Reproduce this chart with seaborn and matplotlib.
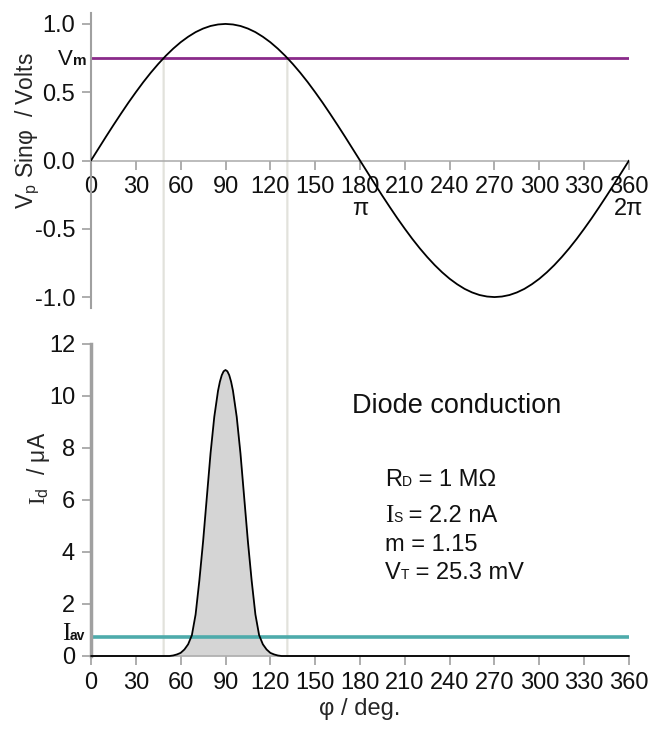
import matplotlib
matplotlib.use('Agg')
import matplotlib.pyplot as plt
from matplotlib.patches import ConnectionPatch
import seaborn as sns

# --- data ---
# phase angle (deg) and normalised source voltage Vp*sin(phi)
phi = list(range(0, 361, 5))
v_sin = [0.000, 0.087, 0.174, 0.259, 0.342, 0.423, 0.500, 0.574, 0.643, 0.707,
         0.766, 0.819, 0.866, 0.906, 0.940, 0.966, 0.985, 0.996, 1.000, 0.996,
         0.985, 0.966, 0.940, 0.906, 0.866, 0.819, 0.766, 0.707, 0.643, 0.574,
         0.500, 0.423, 0.342, 0.259, 0.174, 0.087, 0.000, -0.087, -0.174, -0.259,
         -0.342, -0.423, -0.500, -0.574, -0.643, -0.707, -0.766, -0.819, -0.866, -0.906,
         -0.940, -0.966, -0.985, -0.996, -1.000, -0.996, -0.985, -0.966, -0.940, -0.906,
         -0.866, -0.819, -0.766, -0.707, -0.643, -0.574, -0.500, -0.423, -0.342, -0.259,
         -0.174, -0.087, 0.000]

# diode current pulse (uA)
phi_id = [0, 50, 52.5, 55, 57.5, 60, 62.5, 65, 67.5, 70, 72.5, 75, 77.5, 80, 82.5, 85, 86.25,
          87.5, 88.75, 90, 91.25, 92.5, 93.75, 95, 97.5, 100, 102.5, 105, 107.5, 110, 112.5,
          115, 117.5, 120, 122.5, 125, 127.5, 130, 360]
id_ua = [0.0, 0.0, 0.0, 0.02, 0.06, 0.12, 0.25, 0.45, 0.8, 1.6, 2.9, 4.4, 6.1, 7.8, 9.2, 10.2, 10.55,
         10.8, 10.95, 11.0, 10.95, 10.8, 10.55, 10.2, 9.2, 7.8, 6.1, 4.4, 2.9, 1.6, 0.8,
         0.45, 0.25, 0.12, 0.06, 0.02, 0.0, 0.0, 0.0]

v_m = 0.75          # conduction threshold level
i_av = 0.75         # average current (uA)
cross_deg = [48.6, 131.4]   # where Vp*sin(phi) = Vm

x_ticks = list(range(0, 361, 30))
top_xlabels = ['0', '30', '60', '90', '120', '150', '180\nπ', '210', '240', '270', '300', '330', '360\n2π']
bot_xlabels = [str(t) for t in x_ticks]
top_yticks = [-1.0, -0.5, 0.0, 0.5, 1.0]
top_ylabels = ['-1.0', '-0.5', '0.0', '0.5', '1.0']
bot_yticks = [0, 2, 4, 6, 8, 10, 12]

PURPLE = '#8a2a8a'
TEAL = '#4eabab'
AXGRAY = '#a0a0a0'
SANS = 'Liberation Sans'
SERIF = 'Liberation Serif'

sns.set_theme(style='ticks')
plt.rcParams['font.family'] = ['Liberation Sans', 'DejaVu Sans']
plt.rcParams['mathtext.fontset'] = 'custom'
plt.rcParams['mathtext.rm'] = 'Liberation Serif'
plt.rcParams['mathtext.sf'] = 'Liberation Sans'
plt.rcParams['text.color'] = '#111111'


def chain_label(ax, x, y, parts):
    """Write text pieces of different size side by side on one baseline."""
    prev = None
    for text, size, fam in parts:
        if prev is None:
            prev = ax.annotate(text, (x, y), xycoords='data', fontsize=size,
                               family=fam, ha='left', va='baseline')
        else:
            prev = ax.annotate(text, (1, y), xycoords=(prev, 'data'), fontsize=size,
                               family=fam, ha='left', va='baseline')
    return prev


def style_axes(ax, left_width):
    ax.patch.set_visible(False)
    ax.spines['top'].set_visible(False)
    ax.spines['right'].set_visible(False)
    ax.spines['left'].set_color(AXGRAY)
    ax.spines['left'].set_linewidth(left_width)
    ax.spines['bottom'].set_color('#aaaaaa')
    ax.spines['bottom'].set_linewidth(1.1)
    ax.tick_params(axis='both', direction='out', length=6.5, width=1.2, color=AXGRAY,
                   labelsize=17, labelcolor='#111111')
    ax.tick_params(axis='x', pad=5)
    ax.tick_params(axis='y', pad=5)
    ax.set_xlim(0, 360)
    ax.set_xticks(x_ticks)


fig = plt.figure(figsize=(6.56, 7.29), dpi=100)
ax1 = fig.add_axes([91 / 656, 1 - 308 / 729, 538 / 656, 295 / 729])
ax2 = fig.add_axes([91 / 656, 1 - 656 / 729, 538 / 656, 312 / 729])

# --- top panel: source voltage ---
style_axes(ax1, 1.5)
ax1.spines['bottom'].set_position(('data', 0))
ax1.set_ylim(-1.08, 1.08)
ax1.set_yticks(top_yticks)
ax1.set_yticklabels(top_ylabels)
ax1.set_xticklabels(top_xlabels, linespacing=0.95)
ax1.hlines(v_m, 0, 360, color=PURPLE, lw=2, zorder=2)
sns.lineplot(x=phi, y=v_sin, ax=ax1, color='black', lw=1.3, zorder=3)
ax1.set_xlabel('')
ax1.set_ylabel(r'V$_{\mathsf{p}}$ Sinφ  / Volts', fontsize=16.5)
ax1.yaxis.set_label_coords(-0.092, 0.6)

m_txt = ax1.annotate('m', (0, v_m), xycoords='data', xytext=(-3, -5), textcoords='offset points',
                     fontsize=11, fontweight='bold', ha='right', va='baseline')
ax1.annotate('V', (0, v_m), xycoords=(m_txt, 'data'), xytext=(0, -5), textcoords='offset points',
             fontsize=16, ha='right', va='baseline')

# --- bottom panel: diode current ---
style_axes(ax2, 2.5)
ax2.set_ylim(0, 12)
ax2.set_yticks(bot_yticks)
ax2.set_yticklabels([str(t) for t in bot_yticks])
ax2.set_xticklabels(bot_xlabels)
ax2.fill_between(phi_id, id_ua, 0, color='#d5d5d5', lw=0, zorder=1)
ax2.hlines(i_av, 0, 360, color=TEAL, lw=2.6, zorder=2)
sns.lineplot(x=phi_id, y=id_ua, ax=ax2, color='black', lw=1.3, zorder=3, clip_on=False)
ax2.set_xlabel('φ / deg.', fontsize=17, labelpad=3)
ax2.set_ylabel(r'$\mathrm{I}_{\mathsf{d}}$  / μA', fontsize=16.5)
ax2.yaxis.set_label_coords(-0.072, 0.6)

av_txt = ax2.annotate('av', (0, i_av), xycoords='data', xytext=(-4, -2.5), textcoords='offset points',
                      fontsize=10, fontweight='bold', ha='right', va='baseline')
ax2.annotate('I', (0, i_av), xycoords=(av_txt, 'data'), xytext=(0, -2.5), textcoords='offset points',
             fontsize=18, family=SERIF, ha='right', va='baseline')

ax2.text(174.5, 9.6, 'Diode conduction', fontsize=19.5, ha='left', va='center')
chain_label(ax2, 196.5, 6.55, [('R', 17, SANS), ('D', 10, SANS), (' = 1 MΩ', 17, SANS)])
chain_label(ax2, 196.5, 5.15, [('I', 18, SERIF), ('S', 10, SANS), (' = 2.2 nA', 17, SANS)])
chain_label(ax2, 196.5, 4.05, [('m = 1.15', 17, SANS)])
chain_label(ax2, 196.5, 2.95, [('V', 17, SANS), ('T', 10, SANS), (' = 25.3 mV', 17, SANS)])

# light grey markers where the sine crosses Vm, running into the current panel
for c in cross_deg:
    con = ConnectionPatch(xyA=(c, v_m), coordsA=ax1.transData,
                          xyB=(c, 0), coordsB=ax2.transData,
                          color='#e2e2dc', lw=1.6, zorder=-1)
    fig.add_artist(con)

fig.savefig('out.png', dpi=100)
